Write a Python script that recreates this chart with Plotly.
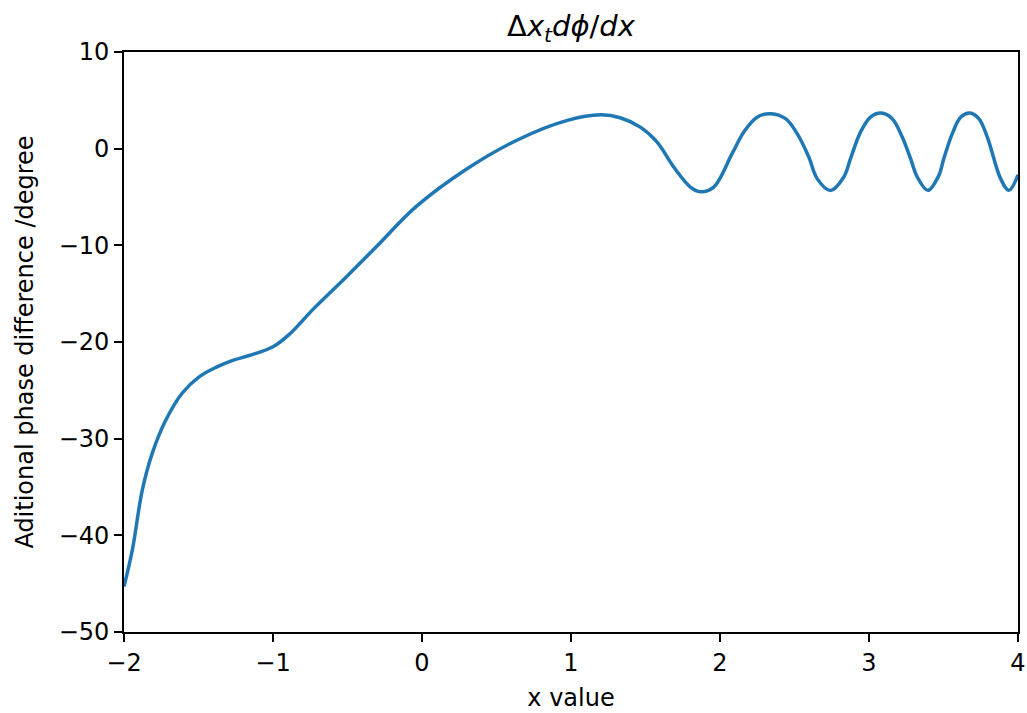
import plotly.graph_objects as go

# values
x_vals = [-2.0, -1.944, -1.877, -1.81, -1.72, -1.61, -1.496, -1.38, -1.27, -1.16,
          -1.0, -0.89, -0.73, -0.51, -0.31, -0.04, 0.30, 0.64, 0.97, 1.20,
          1.33, 1.465, 1.578, 1.689, 1.801, 1.868, 1.958, 2.081, 2.159, 2.249,
          2.343, 2.44, 2.518, 2.596, 2.652, 2.741, 2.831, 2.876, 2.943, 3.01,
          3.082, 3.156, 3.223, 3.279, 3.324, 3.395, 3.469, 3.502, 3.559, 3.615,
          3.677, 3.737, 3.794, 3.883, 3.939, 4.0]
y_vals = [-45.3, -41.5, -35.3, -31.5, -28.1, -25.3, -23.6, -22.6, -21.9, -21.4,
          -20.5, -19.2, -16.6, -13.3, -10.2, -6.0, -2.1, 0.9, 2.9, 3.5,
          3.2, 2.23, 0.68, -1.9, -3.97, -4.45, -3.97, -0.52, 1.71, 3.26,
          3.62, 3.1, 1.55, -0.87, -3.1, -4.33, -2.93, -1.03, 1.71, 3.26,
          3.68, 3.1, 1.2, -1.03, -2.93, -4.31, -2.76, -1.03, 1.55, 3.26,
          3.68, 3.1, 1.2, -3.1, -4.31, -2.7]

x_ticks = [-2, -1, 0, 1, 2, 3, 4]
y_ticks = [-50, -40, -30, -20, -10, 0, 10]

title_text = "Δ<i>x</i><sub><i>t</i></sub><i>dϕ</i>/<i>dx</i>"
x_label = "x value"
y_label = "Aditional phase difference /degree"

FONT = "DejaVu Sans"

fig = go.Figure()
fig.add_trace(go.Scatter(
    x=x_vals, y=y_vals, mode="lines",
    line=dict(color="#1f77b4", width=3.5, shape="spline", smoothing=1.0),
    showlegend=False,
))

axis_common = dict(
    showline=True, linecolor="black", linewidth=1.6, mirror=True,
    ticks="outside", ticklen=8, tickwidth=1.6, tickcolor="black",
    showgrid=False, zeroline=False,
    tickfont=dict(family=FONT, size=24, color="black"),
)

fig.update_layout(
    width=1027, height=713,
    margin=dict(l=124, r=9, t=52, b=81, autoexpand=False),
    paper_bgcolor="white", plot_bgcolor="white",
    font=dict(family=FONT, color="black"),
    title=dict(text=title_text, x=0.556, xanchor="center", y=0.95, yanchor="bottom",
               font=dict(family=FONT, size=29, color="black")),
    xaxis=dict(range=[-2, 4], tickvals=x_ticks,
               title=dict(text=x_label, font=dict(family=FONT, size=24), standoff=14),
               **axis_common),
    yaxis=dict(range=[-50, 10], tickvals=y_ticks,
               title=dict(text=y_label, font=dict(family=FONT, size=24), standoff=18),
               **axis_common),
)

fig.write_html("out.html", config={"displayModeBar": False},
               post_script="document.body.style.margin='0';")
